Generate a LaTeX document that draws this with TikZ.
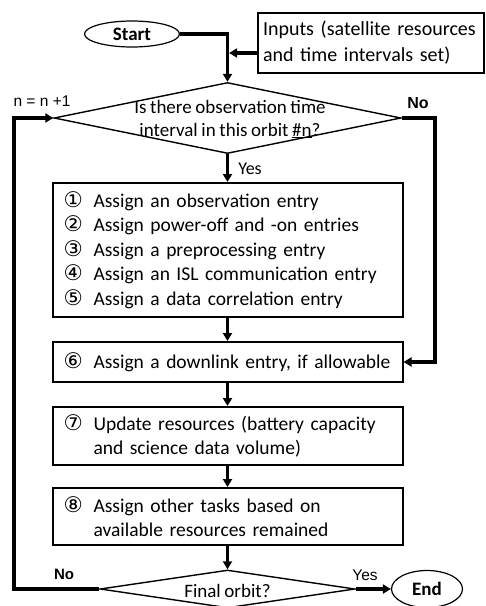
\documentclass[tikz,border=0pt]{standalone}
\usepackage{fontspec}
\setmainfont{Carlito}[WordSpace=0.85]
\newfontfamily\labelfont{Liberation Sans}
\newfontfamily\symfont{DejaVu Sans}
\usetikzlibrary{shapes.geometric,arrows.meta}

\newcommand{\stepno}[1]{\makebox[30pt][l]{\symfont\fontsize{21.5}{21.5}\selectfont #1}}
\newcommand{\stepgap}{\hspace*{30pt}}

\begin{document}
\begin{tikzpicture}[x=1pt,y=-1pt,
  flowline/.style={line width=3.2pt},
  flowarrow/.style={flowline,-{Triangle[length=8pt,width=9pt]}},
  terminal/.style={ellipse,draw,line width=1.2pt,inner sep=0pt,font=\fontsize{19}{22}\selectfont\bfseries},
  taskbox/.style={rectangle,draw,line width=2pt,inner xsep=11pt,text width=328pt,align=left,font=\fontsize{19.5}{24.5}\selectfont},
  decision/.style={diamond,draw,line width=1.4pt,inner sep=0pt},
  branch/.style={font=\labelfont\fontsize{15.5}{15.5}\selectfont}]
\useasboundingbox (0,0) rectangle (486,606);

%Terminals and inputs
\node[terminal,minimum width=95pt,minimum height=26pt] (start) at (132,34) {Start};
\node[taskbox,text width=216pt,inner xsep=5pt,minimum height=60pt,font=\fontsize{20}{26}\selectfont] (inputs) at (371,43) {Inputs (satellite resources\\and time intervals set)};

%Decision: observation interval
\node[decision,minimum width=347pt,minimum height=71pt] (orbit) at (227.5,118) {};
\node[align=center,font=\fontsize{19}{23}\selectfont] (orbittext) at (230,119) {Is there observation time\\interval in this orbit \underline{\#n}?};

%Task boxes
\node[taskbox,minimum height=134pt] (assign) at (227.5,250) {\stepno{①}Assign an observation entry\\\stepno{②}Assign power-off and -on entries\\\stepno{③}Assign a preprocessing entry\\\stepno{④}Assign an ISL communication entry\\\stepno{⑤}Assign a data correlation entry};
\node[taskbox,minimum height=40pt] (downlink) at (227.5,362) {\stepno{⑥}Assign a downlink entry, if allowable};
\node[taskbox,minimum height=58pt] (update) at (227.5,436) {\stepno{⑦}Update resources (battery capacity\\\stepgap and science data volume)};
\node[taskbox,minimum height=57pt] (other) at (227.5,516.5) {\stepno{⑧}Assign other tasks based on\\\stepgap available resources remained};

%Decision: final orbit
\node[decision,minimum width=255pt,minimum height=38pt] (final) at (227.5,589) {};
\node[font=\fontsize{19}{22}\selectfont] (finaltext) at (227.5,591) {Final orbit?};
\node[terminal,minimum width=71pt,minimum height=37pt] (stop) at (427,589) {End};

%Connectors
\coordinate (feed) at ([yshift=-10pt]inputs.west);
\coordinate (loopR) at (435,362);
\coordinate (loopL) at (14,118);
\draw[flowarrow] (start.east) -| (orbit.north);
\draw[flowarrow,shorten >=1.6pt] (feed) -- (feed -| orbit.north);
\draw[flowarrow] (orbit.south) -- (assign.north);
\draw[flowarrow] (assign.south) -- (downlink.north);
\draw[flowarrow] (downlink.south) -- (update.north);
\draw[flowarrow] (update.south) -- (other.north);
\draw[flowarrow] (other.south) -- (final.north);
\draw[flowarrow] (orbit.east) -| (loopR) -- (downlink.east);
\draw[flowarrow] (final.west) -| (loopL) -- (orbit.west);
\draw[flowarrow] (final.east) -- (stop.west);

%Branch labels
\node[branch] (incr) at (42,101) {n = n +1};
\node[font=\labelfont\bfseries\fontsize{16}{16}\selectfont] (skip) at (418,103) {No};
\node[font=\fontsize{18}{18}\selectfont] (proceed) at (250,169) {Yes};
\node[font=\labelfont\bfseries\fontsize{15}{15}\selectfont] (again) at (64,574) {No};
\node[branch] (done) at (365,575) {Yes};

\end{tikzpicture}
\end{document}
